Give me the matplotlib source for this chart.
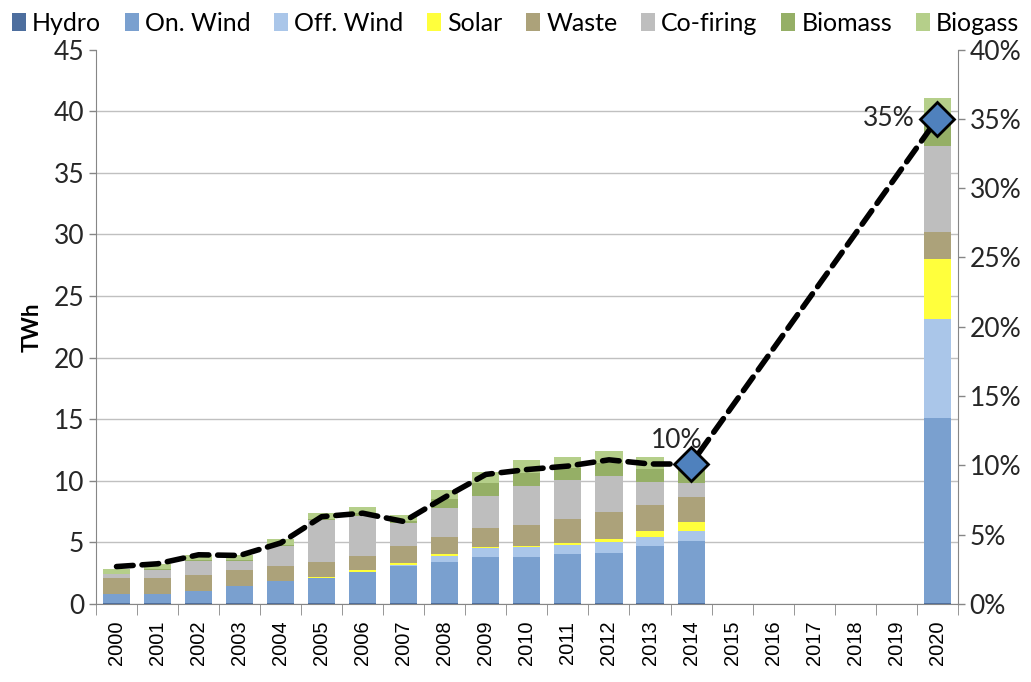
import numpy as np
import matplotlib
matplotlib.use('Agg')
import matplotlib.pyplot as plt

years = [str(y) for y in range(2000, 2021)]

# TWh per source (2015-2019 empty)
hydro    = [0.1, 0.1, 0.1, 0.1, 0.1, 0.1, 0.1, 0.1, 0.1, 0.1, 0.1, 0.1, 0.1, 0.1, 0.1, 0, 0, 0, 0, 0, 0.1]
on_wind  = [0.75, 0.75, 0.95, 1.35, 1.75, 2.0, 2.5, 2.95, 3.33, 3.74, 3.74, 3.96, 4.07, 4.61, 5.04, 0, 0, 0, 0, 0, 15.0]
off_wind = [0, 0, 0, 0, 0, 0, 0, 0.1, 0.48, 0.7, 0.76, 0.75, 0.89, 0.7, 0.79, 0, 0, 0, 0, 0, 8.0]
solar    = [0, 0, 0.02, 0.03, 0.03, 0.08, 0.12, 0.15, 0.14, 0.08, 0.11, 0.11, 0.24, 0.52, 0.7, 0, 0, 0, 0, 0, 4.9]
waste    = [1.25, 1.27, 1.27, 1.27, 1.2, 1.22, 1.2, 1.4, 1.41, 1.58, 1.7, 1.95, 2.2, 2.08, 2.03, 0, 0, 0, 0, 0, 2.2]
cofiring = [0.3, 0.63, 1.13, 0.75, 1.63, 3.43, 3.25, 1.85, 2.3, 2.57, 3.17, 3.19, 2.92, 1.87, 1.13, 0, 0, 0, 0, 0, 7.0]
biomass  = [0.05, 0.08, 0.1, 0.1, 0.1, 0.1, 0.2, 0.2, 0.74, 1.08, 1.02, 0.95, 1.0, 1.05, 1.09, 0, 0, 0, 0, 0, 1.9]
biogass  = [0.38, 0.45, 0.44, 0.4, 0.44, 0.44, 0.53, 0.5, 0.75, 0.89, 1.09, 0.95, 1.03, 1.03, 0.52, 0, 0, 0, 0, 0, 2.0]

# renewable share (%), only years with data
share_years = [2000, 2001, 2002, 2003, 2004, 2005, 2006, 2007, 2008, 2009, 2010, 2011, 2012, 2013, 2014, 2020]
share = [2.7, 2.9, 3.55, 3.5, 4.4, 6.3, 6.55, 5.95, 7.7, 9.35, 9.7, 9.95, 10.4, 10.1, 10.1, 35.0]

series = [
    ('Hydro', hydro, '#4D6E9E'),
    ('On. Wind', on_wind, '#7AA0CF'),
    ('Off. Wind', off_wind, '#AAC6E9'),
    ('Solar', solar, '#FFFF3C'),
    ('Waste', waste, '#ACA27A'),
    ('Co-firing', cofiring, '#BEBEBE'),
    ('Biomass', biomass, '#95AF66'),
    ('Biogass', biogass, '#B5CF8A'),
]

plt.rcParams['font.family'] = ['Lato', 'DejaVu Sans']

fig = plt.figure(figsize=(10.31, 6.82), dpi=100)
ax = fig.add_axes([0.0931, 0.1144, 0.8359, 0.8129])

x = np.arange(len(years))
bottom = np.zeros(len(years))
for name, vals, col in series:
    ax.bar(x, vals, width=0.66, bottom=bottom, color=col, label=name, zorder=2)
    bottom += np.array(vals)

ax.set_xlim(-0.5, len(years) - 0.5)
ax.set_ylim(0, 45)
ax.set_yticks(np.arange(0, 46, 5))
ax.tick_params(axis='y', labelsize=19, colors='#868686', labelcolor='#262626',
               length=5, width=1, direction='out')
ax.yaxis.grid(True, color='#C0C0C0', linewidth=1, zorder=0)
ax.get_ygridlines()[-1].set_visible(False)
ax.set_axisbelow(True)

ax.set_xticks(x)
ax.set_xticklabels(years, rotation=90, fontsize=14.5, family='Liberation Sans')
ax.set_xticks(np.arange(-0.5, len(years), 1), minor=True)
ax.tick_params(axis='x', which='major', length=0, pad=12, labelcolor='black')
ax.tick_params(axis='x', which='minor', length=8, color='#868686')

for s in ['top', 'right']:
    ax.spines[s].set_visible(False)
ax.spines['left'].set_color('#868686')
ax.spines['bottom'].set_color('#868686')

ax.set_ylabel('TWh', fontsize=16, fontweight='bold', labelpad=8)

ax2 = ax.twinx()
sx = [y - 2000 for y in share_years]
ax2.plot(sx, share, color='black', linewidth=4, linestyle=(0, (3, 1.6)),
         dash_capstyle='round', marker='D', markersize=17, markevery=[14, 15],
         markerfacecolor='#4F81BD', markeredgecolor='black', markeredgewidth=2,
         zorder=5)
ax2.set_ylim(0, 40)
ax2.set_yticks(np.arange(0, 41, 5))
ax2.set_yticklabels([f'{v}%' for v in range(0, 41, 5)])
ax2.tick_params(axis='y', labelsize=19, colors='#868686', labelcolor='#262626',
                length=5, width=1, direction='out')
for s in ['top', 'left', 'bottom']:
    ax2.spines[s].set_visible(False)
ax2.spines['right'].set_color('#868686')

ax2.annotate(f'{share[14]:.0f}%', (sx[14], share[14]), xytext=(-10, 17),
             textcoords='offset points', ha='center', va='center', fontsize=19,
             color='#262626')
ax2.annotate(f'{share[15]:.0f}%', (sx[15], share[15]), xytext=(-35, 0),
             textcoords='offset points', ha='center', va='center', fontsize=19,
             color='#262626')

handles, labels = ax.get_legend_handles_labels()
fig.legend(handles, labels, loc='upper center', bbox_to_anchor=(0.5, 1.005), ncol=8,
           frameon=False, fontsize=18, handlelength=0.55, handleheight=0.7,
           handletextpad=0.25, columnspacing=0.95, borderaxespad=0.2)

plt.savefig('out.png', dpi=100)
plt.close()
